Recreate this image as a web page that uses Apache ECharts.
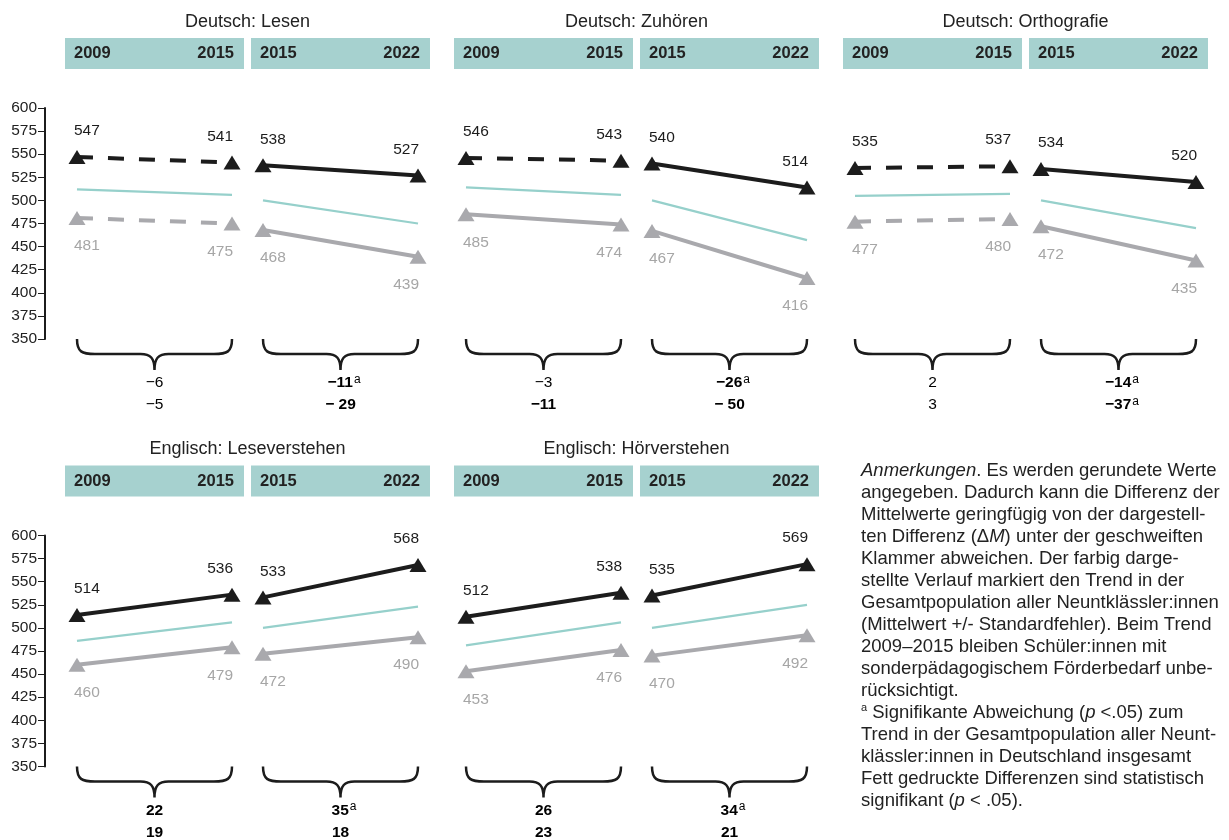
<!DOCTYPE html>
<html>
<head>
<meta charset="utf-8">
<script src="https://cdn.jsdelivr.net/npm/echarts@6/dist/echarts.min.js"></script>
<style>
  html, body { margin: 0; padding: 0; background: #fff; }
  #chart { width: 1229px; height: 840px; }
</style>
</head>
<body>
<div id="chart"></div>
<script>
// Panel titles and the two trend periods shown in each panel
const panelTitles = ['Deutsch: Lesen', 'Deutsch: Zuhören', 'Deutsch: Orthografie',
                     'Englisch: Leseverstehen', 'Englisch: Hörverstehen'];
const periodYears = [['2009', '2015'], ['2015', '2022']];

// Mean scores per panel, per period [start, end]
// Upper subgroup (black)
const upperGroup = [
  [[547, 541], [538, 527]],
  [[546, 543], [540, 514]],
  [[535, 537], [534, 520]],
  [[514, 536], [533, 568]],
  [[512, 538], [535, 569]]
];
// Lower subgroup (grey)
const lowerGroup = [
  [[481, 475], [468, 439]],
  [[485, 474], [467, 416]],
  [[477, 480], [472, 435]],
  [[460, 479], [472, 490]],
  [[453, 476], [470, 492]]
];
// Overall population trend (teal)
const totalTrend = [
  [[512, 506], [500, 475]],
  [[514, 506], [500, 457]],
  [[505, 507], [500, 470]],
  [[486, 506], [500, 523]],
  [[481, 506], [500, 525]]
];

// Differences (ΔM) under each brace: upper group first line, lower group second line
const diffUpper = [['−6', '−11'], ['−3', '−26'], ['2', '−14'], ['22', '35'], ['26', '34']];
const diffLower = [['−5', '− 29'], ['−11', '− 50'], ['3', '−37'], ['19', '18'], ['23', '21']];
// statistically significant (bold) differences
const boldUpper = [[false, true], [false, true], [false, true], [true, true], [true, true]];
const boldLower = [[false, true], [true, true], [false, true], [true, true], [true, true]];
// significant deviation from the overall trend (superscript a)
const supUpper = [[false, true], [false, true], [false, true], [false, true], [false, true]];
const supLower = [[false, false], [false, false], [false, true], [false, false], [false, false]];

// Y axis scale
const yMin = 350, yMax = 600, yStep = 25;

// ---- layout ----
const FONT = '"Liberation Sans", Arial, Helvetica, sans-serif';
const C_BLACK = '#1c1c1c', C_GREY = '#a9a9ad', C_GREY_TXT = '#a6a6a6';
const C_TEAL = '#96d0cb', C_BOX = '#a6d1cf', C_TEXT = '#222222';
const panelLeft = [65, 454, 843, 65, 454];
const rowTop = [108, 108, 108, 535.5, 535.5];
const boxW = 179, boxGap = 186, pad = 12, plotH = 231;

const grids = [], xAxes = [], yAxes = [], series = [], graphics = [];

function pointLabel(value, first) {
  return {
    value: value,
    label: {
      align: first ? 'left' : 'right',
      offset: [first ? -3 : 1, 0]
    }
  };
}

function groupSeries(g, data, color, txtColor, dashed, above) {
  return {
    type: 'line',
    xAxisIndex: g, yAxisIndex: g,
    data: data.map((v, i) => pointLabel(v, i === 0)),
    symbol: 'triangle',
    symbolSize: [17, 14],
    showAllSymbol: true,
    itemStyle: { color: color },
    lineStyle: { color: color, width: 4, type: dashed ? [16, 15] : 'solid' },
    label: {
      show: true,
      position: above ? 'top' : 'bottom',
      distance: above ? 11 : 13,
      color: txtColor,
      fontSize: 15.5,
      fontFamily: FONT
    },
    z: 4,
    silent: true,
    animation: false
  };
}

function diffText(txt, bold, sup) {
  const key = bold ? 'b' : 'n';
  return '{' + key + '|' + txt + '}' + (sup ? '{s|a}' : '');
}

const diffRich = {
  n: { fontSize: 15.5, fontFamily: FONT, color: C_BLACK, lineHeight: 19 },
  b: { fontSize: 15.5, fontFamily: FONT, fontWeight: 'bold', color: C_BLACK, lineHeight: 19 },
  s: { fontSize: 12, fontFamily: FONT, color: C_BLACK, verticalAlign: 'top', lineHeight: 19, padding: [0, 0, 4, 1] }
};

for (let p = 0; p < panelTitles.length; p++) {
  const top = rowTop[p];
  // panel title
  graphics.push({
    type: 'text', x: panelLeft[p] + (boxGap + boxW) / 2, y: top - 86,
    style: { text: panelTitles[p], font: '18px ' + FONT, fill: C_TEXT, align: 'center', verticalAlign: 'middle' }
  });
  for (let s = 0; s < 2; s++) {
    const g = p * 2 + s;
    const bx = panelLeft[p] + s * boxGap;
    // period header box with its start and end year
    graphics.push({
      type: 'rect', x: bx, y: top - 70, shape: { width: boxW, height: 31 },
      style: { fill: C_BOX }
    });
    graphics.push({
      type: 'text', x: bx + 9, y: top - 54.5,
      style: { text: periodYears[s][0], font: 'bold 16.5px ' + FONT, fill: C_TEXT, align: 'left', verticalAlign: 'middle' }
    });
    graphics.push({
      type: 'text', x: bx + boxW - 10, y: top - 54.5,
      style: { text: periodYears[s][1], font: 'bold 16.5px ' + FONT, fill: C_TEXT, align: 'right', verticalAlign: 'middle' }
    });

    grids.push({ left: bx + pad, top: top, width: boxW - 2 * pad, height: plotH });
    xAxes.push({
      type: 'category', gridIndex: g, data: periodYears[s], boundaryGap: false, show: false
    });
    const showY = (s === 0 && (p === 0 || p === 3));
    yAxes.push({
      type: 'value', gridIndex: g, min: yMin, max: yMax, interval: yStep,
      show: showY,
      position: 'left',
      offset: 32,
      axisLine: { show: true, lineStyle: { color: C_BLACK, width: 2 } },
      axisTick: { show: true, inside: false, length: 7, lineStyle: { color: C_BLACK, width: 1 } },
      axisLabel: { show: true, margin: 8, fontSize: 15.5, fontFamily: FONT, color: C_TEXT },
      splitLine: { show: false }
    });

    // overall trend
    series.push({
      type: 'line', xAxisIndex: g, yAxisIndex: g,
      data: totalTrend[p][s], symbol: 'none',
      lineStyle: { color: C_TEAL, width: 2.2 }, z: 2, silent: true, animation: false
    });
    // subgroups: dashed when the difference is not significant
    series.push(groupSeries(g, upperGroup[p][s], C_BLACK, C_BLACK, !boldUpper[p][s], true));
    series.push(groupSeries(g, lowerGroup[p][s], C_GREY, C_GREY_TXT, !boldLower[p][s], false));

    // curly brace with the two differences below
    const upTxt = diffText(diffUpper[p][s], boldUpper[p][s], supUpper[p][s]);
    const loTxt = diffText(diffLower[p][s], boldLower[p][s], supLower[p][s]);
    const upShift = supUpper[p][s] ? 3.5 : 0;
    const loShift = supLower[p][s] ? 3.5 : 0;
    series.push({
      type: 'custom', xAxisIndex: g, yAxisIndex: g,
      data: [[0, yMin]], silent: true, animation: false, clip: false,
      renderItem: function (params, api) {
        const a = api.coord([0, yMin]);
        const b = api.coord([1, yMin]);
        const x0 = a[0], x1 = b[0], y0 = a[1];
        const xc = (x0 + x1) / 2, ym = y0 + 15, yt = y0 + 31;
        const d = 'M' + x0 + ',' + y0 +
          ' C' + x0 + ',' + (ym - 2) + ' ' + (x0 + 5) + ',' + ym + ' ' + (x0 + 18) + ',' + ym +
          ' L' + (xc - 14) + ',' + ym +
          ' C' + (xc - 4) + ',' + ym + ' ' + xc + ',' + (ym + 4) + ' ' + xc + ',' + yt +
          ' C' + xc + ',' + (ym + 4) + ' ' + (xc + 4) + ',' + ym + ' ' + (xc + 14) + ',' + ym +
          ' L' + (x1 - 18) + ',' + ym +
          ' C' + (x1 - 5) + ',' + ym + ' ' + x1 + ',' + (ym - 2) + ' ' + x1 + ',' + y0;
        return {
          type: 'group',
          children: [
            { type: 'path', shape: { pathData: d }, style: { fill: 'none', stroke: C_BLACK, lineWidth: 2.5 } },
            { type: 'text', x: xc + upShift, y: y0 + 44,
              style: { text: upTxt, rich: diffRich, align: 'center', verticalAlign: 'middle' } },
            { type: 'text', x: xc + loShift, y: y0 + 66,
              style: { text: loTxt, rich: diffRich, align: 'center', verticalAlign: 'middle' } }
          ]
        };
      }
    });
  }
}

// Notes block
const noteText = [
  '{i|Anmerkungen}. Es werden gerundete Werte',
  'angegeben. Dadurch kann die Differenz der',
  'Mittelwerte geringfügig von der dargestell-',
  'ten Differenz (Δ{i|M}) unter der geschweiften',
  'Klammer abweichen. Der farbig darge-',
  'stellte Verlauf markiert den Trend in der',
  'Gesamtpopulation aller Neuntklässler:innen',
  '(Mittelwert +/- Standardfehler). Beim Trend',
  '2009–2015 bleiben Schüler:innen mit',
  'sonderpädagogischem Förderbedarf unbe-',
  'rücksichtigt.',
  '{s|a} Signifikante Abweichung ({i|p} <.05) zum',
  'Trend in der Gesamtpopulation aller Neunt-',
  'klässler:innen in Deutschland insgesamt',
  'Fett gedruckte Differenzen sind statistisch',
  'signifikant ({i|p} < .05).'
].join('\n');

graphics.push({
  type: 'text', x: 861, y: 460,
  style: {
    text: noteText,
    font: '18.5px ' + FONT,
    fill: C_TEXT,
    lineHeight: 22,
    align: 'left', verticalAlign: 'top',
    rich: {
      i: { fontStyle: 'italic', fontSize: 18.5, fontFamily: FONT, color: C_TEXT, lineHeight: 22 },
      s: { fontSize: 11, fontFamily: FONT, color: C_TEXT, verticalAlign: 'top', lineHeight: 18 }
    }
  }
});

const chart = echarts.init(document.getElementById('chart'), null, { renderer: 'canvas' });
chart.setOption({
  animation: false,
  backgroundColor: '#ffffff',
  textStyle: { fontFamily: FONT },
  grid: grids,
  xAxis: xAxes,
  yAxis: yAxes,
  series: series,
  graphic: graphics
});
</script>
</body>
</html>
